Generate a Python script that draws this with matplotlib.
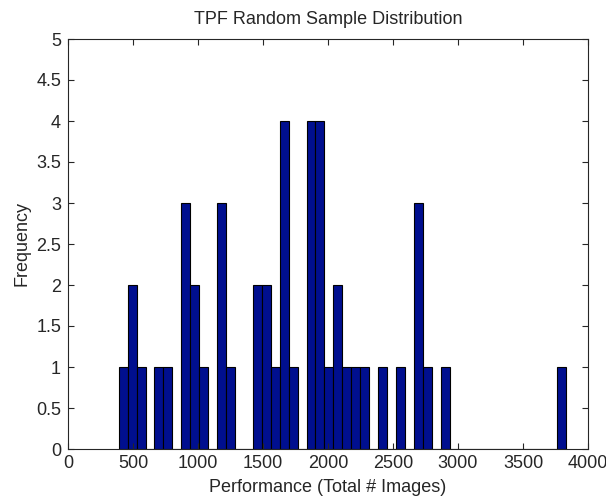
import numpy as np
import matplotlib
matplotlib.use("Agg")
import matplotlib.pyplot as plt

# Histogram data (50 bins between min and max of the sample)
hist_min = 390
hist_max = 3830
n_bins = 50
counts = [1, 2, 1, 0, 1, 1, 0, 3, 2, 1,
          0, 3, 1, 0, 0, 2, 2, 1, 4, 1,
          0, 4, 4, 1, 2, 1, 1, 1, 0, 1,
          0, 1, 0, 3, 1, 0, 1, 0, 0, 0,
          0, 0, 0, 0, 0, 0, 0, 0, 0, 1]
x_ticks = [0, 500, 1000, 1500, 2000, 2500, 3000, 3500, 4000]
y_ticks = [0, 0.5, 1, 1.5, 2, 2.5, 3, 3.5, 4, 4.5, 5]
y_tick_labels = ["0", "0.5", "1", "1.5", "2", "2.5", "3", "3.5", "4", "4.5", "5"]

plt.rcParams['font.family'] = ['Liberation Sans', 'DejaVu Sans']

fig = plt.figure(figsize=(6.06, 4.98), dpi=100)
ax = fig.add_axes([68/606, 49/498, 520/606, 410/498])

edges = np.linspace(hist_min, hist_max, n_bins + 1)
width = edges[1] - edges[0]
ax.bar(edges[:-1], counts, width=width, align='edge',
       color='#000f8f', edgecolor='black', linewidth=0.8)

ax.set_xlim(0, 4000)
ax.set_ylim(0, 5)
ax.set_xticks(x_ticks)
ax.set_xticklabels([str(t) for t in x_ticks])
ax.set_yticks(y_ticks)
ax.set_yticklabels(y_tick_labels)
ax.tick_params(direction='in', top=True, right=True, labelsize=13,
               length=4.5, width=0.8, colors='#262626', labelcolor='#262626')
ax.tick_params(axis='y', pad=5)
ax.tick_params(axis='x', pad=4)
for s in ax.spines.values():
    s.set_linewidth(0.8)
    s.set_color('#262626')

ax.set_title('TPF Random Sample Distribution', fontsize=13, color='#262626', pad=11)
ax.set_xlabel('Performance (Total # Images)', fontsize=13, color='#262626', labelpad=5)
ax.set_ylabel('Frequency', fontsize=13, color='#262626', labelpad=4)

fig.savefig('out.png', dpi=100)
